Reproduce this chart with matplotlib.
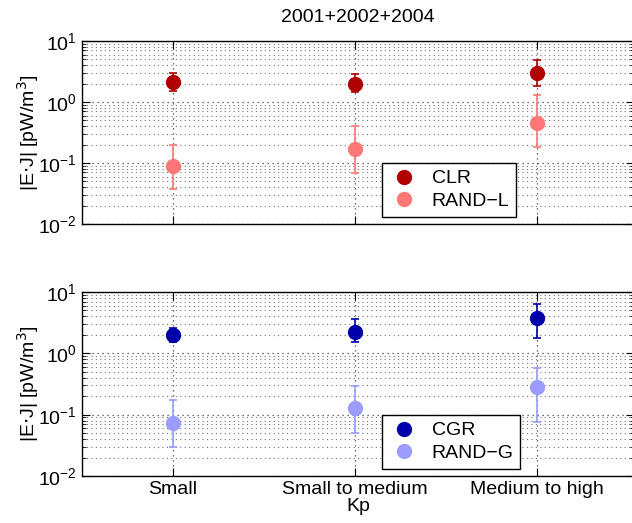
import numpy as np
import matplotlib
matplotlib.use("Agg")
import matplotlib.pyplot as plt
from matplotlib.ticker import LogLocator, NullFormatter

categories = ["Small", "Small to medium", "Medium to high"]

clr = [2.15, 2.0, 3.0]
clr_lo = [1.5, 1.44, 1.83]
clr_hi = [3.0, 2.9, 4.9]
randl = [0.09, 0.172, 0.46]
randl_lo = [0.038, 0.068, 0.185]
randl_hi = [0.195, 0.40, 1.29]

cgr = [1.96, 2.2, 3.72]
cgr_lo = [1.51, 1.53, 1.80]
cgr_hi = [2.59, 3.67, 6.45]
randg = [0.072, 0.13, 0.285]
randg_lo = [0.0297, 0.051, 0.076]
randg_hi = [0.173, 0.293, 0.575]

plt.rcParams['font.family'] = ['Liberation Sans', 'DejaVu Sans']

fig = plt.figure(figsize=(6.32, 5.23), dpi=100)
W, H = 632, 523
ax1 = fig.add_axes([82 / W, 1 - 224 / H, 552 / W, 183 / H])
ax2 = fig.add_axes([82 / W, 1 - 476 / H, 552 / W, 184 / H])

x = np.arange(1, 4)


def draw(ax, vals, lo, hi, col, label):
    vals = np.array(vals)
    yerr = [vals - np.array(lo), np.array(hi) - vals]
    ax.errorbar(x, vals, yerr=yerr, fmt='none', ecolor=col,
                capsize=3, elinewidth=1.2, capthick=1.2, zorder=3)
    ax.plot(x, vals, 'o', color=col, ms=10, label=label, zorder=4)


def style(ax):
    ax.set_yscale('log')
    ax.set_ylim(1e-2, 1e1)
    ax.set_xlim(0.5, 3.533)
    ax.set_xticks(x)
    ax.yaxis.set_major_locator(LogLocator(base=10, numticks=10))
    ax.yaxis.set_minor_locator(LogLocator(base=10, subs=np.arange(2, 10), numticks=10))
    ax.yaxis.set_minor_formatter(NullFormatter())
    ax.grid(True, which='major', axis='both', linestyle=(0, (1, 3)), color='0.25', linewidth=0.9)
    ax.grid(True, which='minor', axis='y', linestyle=(0, (1, 3)), color='0.45', linewidth=0.8)
    ax.tick_params(which='both', direction='in', top=True, right=True, labelsize=14)
    ax.tick_params(which='major', length=6)
    ax.tick_params(which='minor', length=3)
    ax.set_ylabel('|E$\\cdot$J| [pW/m$^3$]', fontsize=14, labelpad=-2)
    for s in ax.spines.values():
        s.set_linewidth(1.0)


draw(ax1, clr, clr_lo, clr_hi, '#b00000', 'CLR')
draw(ax1, randl, randl_lo, randl_hi, '#ff7878', 'RAND\u2212L')
draw(ax2, cgr, cgr_lo, cgr_hi, '#0000aa', 'CGR')
draw(ax2, randg, randg_lo, randg_hi, '#9c9cff', 'RAND\u2212G')

style(ax1)
style(ax2)
ax1.set_xticklabels([])
ax2.set_xticklabels(categories)
ax2.set_xlabel('Kp', fontsize=14, labelpad=0)
ax1.set_title('2001+2002+2004', fontsize=14, pad=14)

for ax in (ax1, ax2):
    leg = ax.legend(loc='lower left', bbox_to_anchor=(300 / 552, 0.04), fontsize=14,
                    handletextpad=0.6, borderpad=0.35, labelspacing=0.25,
                    fancybox=False, framealpha=1, borderaxespad=0,
                    edgecolor='black', numpoints=1, handlelength=1.6)
    leg.get_frame().set_linewidth(1.0)

fig.savefig('out.png', dpi=100)
